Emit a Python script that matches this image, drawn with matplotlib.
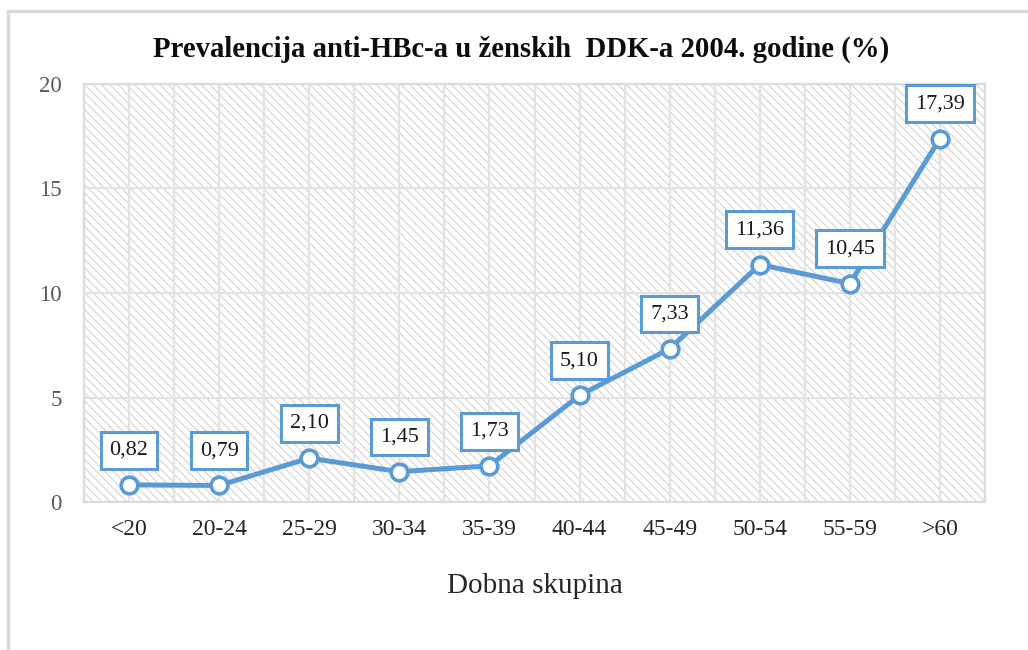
import matplotlib
matplotlib.use("Agg")
import matplotlib.pyplot as plt
from matplotlib.patches import Rectangle

categories = ["<20", "20-24", "25-29", "30-34", "35-39", "40-44", "45-49", "50-54", "55-59", ">60"]
values = [0.82, 0.79, 2.10, 1.45, 1.73, 5.10, 7.33, 11.36, 10.45, 17.39]
labels = ["0,82", "0,79", "2,10", "1,45", "1,73", "5,10", "7,33", "11,36", "10,45", "17,39"]
yticks = [0, 5, 10, 15, 20]
title = "Prevalencija anti-HBc-a u ženskih  DDK-a 2004. godine (%)"
xlabel = "Dobna skupina"

plt.rcParams['font.family'] = ['Liberation Serif', 'DejaVu Serif']
plt.rcParams['hatch.linewidth'] = 0.9

W, H = 1028, 650
fig = plt.figure(figsize=(W / 100, H / 100), dpi=100)
fig.patch.set_facecolor("white")

# outer border
fig.patches.append(Rectangle((8 / W, -0.1), 1.2, 1.1 - 11 / H, transform=fig.transFigure,
                             facecolor="none", edgecolor="#d9d9d9", linewidth=2.5, zorder=0))

ax = fig.add_axes([84 / W, 1 - 502 / H, 901 / W, 418 / H])
ax.set_facecolor("white")
bg = Rectangle((0, 0), 1, 1, transform=ax.transAxes, facecolor="white",
               edgecolor="#d8d8d8", hatch="\\" * 4, linewidth=0, zorder=0)
ax.add_patch(bg)

x = list(range(len(categories)))
ax.set_xlim(-0.5, len(categories) - 0.5)
ax.set_ylim(0, 20)

# gridlines
for gx in [i * 0.5 - 0.5 for i in range(2 * len(categories) + 1)]:
    ax.axvline(gx, color="#e3e3e3", linewidth=1.6, zorder=1)
for gy in yticks:
    ax.axhline(gy, color="#e3e3e3", linewidth=1.6, zorder=1)

blue = "#5B9BD5"
ax.plot(x, values, color=blue, linewidth=3.6, marker="o", markersize=12,
        markerfacecolor="white", markeredgecolor=blue, markeredgewidth=2.6, zorder=3)

for xi, v, lab in zip(x, values, labels):
    ax.annotate(lab, (xi, v), xytext=(0, 25), textcoords="offset points",
                ha="center", va="center", fontsize=16, color="#1a1a1a",
                bbox=dict(boxstyle="square,pad=0.4", facecolor="white",
                          edgecolor=blue, linewidth=2.2), zorder=4)

ax.set_xticks(x)
ax.set_xticklabels(categories, fontsize=17, color="#262626")
ax.set_yticks(yticks)
ax.set_yticklabels([str(t) for t in yticks], fontsize=16.5, color="#595959")
ax.tick_params(axis="both", length=0)
ax.tick_params(axis="x", pad=12)
ax.tick_params(axis="y", pad=16)
for s in ax.spines.values():
    s.set_color("#dcdcdc")
    s.set_linewidth(1.6)

ax.set_xlabel(xlabel, fontsize=21, color="#262626", labelpad=24)
fig.text(521 / W, 1 - 49 / H, title, ha="center", va="center",
         fontsize=20.7, fontweight="bold", color="#0d0d0d")

fig.savefig("out.png", dpi=100, facecolor="white")
